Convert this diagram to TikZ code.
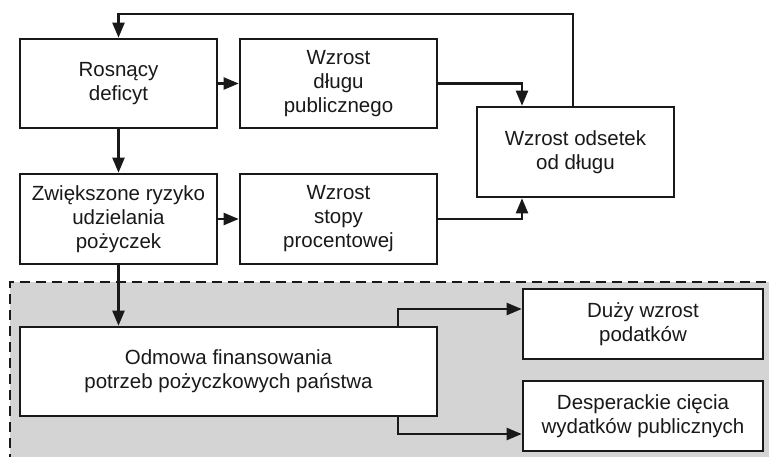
\documentclass[tikz,border=0pt]{standalone}
\usepackage{fontspec}
\setmainfont{Liberation Sans}
\usetikzlibrary{arrows.meta}
\definecolor{bggray}{RGB}{212,212,212}
\definecolor{ink}{RGB}{25,25,25}
\begin{document}
\begin{tikzpicture}[x=1pt,y=-1pt,
  box/.style={draw=ink, line width=2.6pt, fill=white, align=center, inner sep=0pt,
    text=ink, font=\fontsize{20.5}{24}\selectfont},
  arr/.style={draw=ink, line width=2.2pt, -{Triangle[length=15pt,width=12pt]}},
  zone/.style={fill=bggray},
  zoneline/.style={draw=ink, line width=2.4pt, dash pattern=on 10pt off 6pt}]
\useasboundingbox (0,0) rectangle (769,456);
\begin{scope}
\clip (0,0) rectangle (769,456);
\fill[zone] (10,282) rectangle (790,480);
\draw[zoneline] (10,480) -- (10,282) -- (790,282);
\end{scope}

\node[box, minimum width=197pt, minimum height=89pt] (ros) at (118.5,83.5) {Rosnący\\deficyt};
\node[box, minimum width=197pt, minimum height=89pt] (dlu) at (338.5,83.5) {Wzrost\\długu\\publicznego};
\node[box, minimum width=197pt, minimum height=90pt] (ods) at (575.5,152) {Wzrost odsetek\\od długu};
\node[box, minimum width=197pt, minimum height=90pt] (zwi) at (118.5,219) {Zwiększone ryzyko\\udzielania\\pożyczek};
\node[box, minimum width=197pt, minimum height=90pt] (sto) at (338.5,219) {Wzrost\\stopy\\procentowej};
\node[box, minimum width=417pt, minimum height=89pt] (odm) at (228.5,371.5) {Odmowa finansowania\\potrzeb pożyczkowych państwa};
\node[box, minimum width=240pt, minimum height=70pt] (duz) at (643,324) {Duży wzrost\\podatków};
\node[box, minimum width=240pt, minimum height=70pt] (des) at (643,416) {Desperackie cięcia\\wydatków publicznych};

\coordinate (fb) at (573,14);
\coordinate (ax) at (522,0);
\coordinate (bx) at (398,0);

\draw[arr] (ros.east) -- (dlu.west);
\draw[arr] (zwi.east) -- (sto.west);
\draw[arr] (ros.south) -- (zwi.north);
\draw[arr] (zwi.south) -- (odm.north -| zwi.south);
\draw[arr] (dlu.east) -| (ax |- ods.north);
\draw[arr] (sto.east) -| (ax |- ods.south);
\draw[arr] (fb |- ods.north) -- (fb) -| (ros.north);
\draw[arr] (bx |- odm.north) |- ([yshift=15pt]duz.west);
\draw[arr] (bx |- odm.south) |- ([yshift=-18pt]des.west);
\end{tikzpicture}
\end{document}
